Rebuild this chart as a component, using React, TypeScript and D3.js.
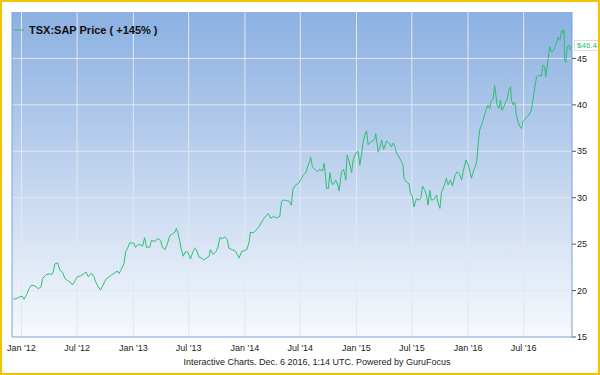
import React from 'react';
import * as d3 from 'd3';

const dates = [
  '2011-12-05', '2011-12-11', '2011-12-22',
  '2012-01-03', '2012-01-09', '2012-01-18', '2012-01-26', '2012-02-03', '2012-02-14', '2012-02-25', '2012-03-05', '2012-03-10', '2012-03-21', '2012-04-01', '2012-04-09', '2012-04-14', '2012-04-19', '2012-04-28', '2012-05-06', '2012-05-15', '2012-05-22', '2012-05-31', '2012-06-07', '2012-06-16', '2012-06-24', '2012-07-02', '2012-07-13', '2012-07-23', '2012-07-30', '2012-08-06', '2012-08-17', '2012-08-25', '2012-09-01', '2012-09-08', '2012-09-16', '2012-09-24', '2012-10-03', '2012-10-14', '2012-10-22', '2012-11-01', '2012-11-09', '2012-11-15', '2012-11-23', '2012-12-01', '2012-12-07', '2012-12-15', '2012-12-20', '2012-12-29',
  '2013-01-02', '2013-01-08', '2013-01-18', '2013-01-31', '2013-02-07', '2013-02-13', '2013-02-24', '2013-03-01', '2013-03-12', '2013-03-23', '2013-03-31', '2013-04-06', '2013-04-14', '2013-04-21', '2013-04-30', '2013-05-09', '2013-05-17', '2013-05-22', '2013-05-27', '2013-06-02', '2013-06-07', '2013-06-13', '2013-06-21', '2013-06-29', '2013-07-07', '2013-07-15', '2013-07-21', '2013-07-26', '2013-08-04', '2013-08-12', '2013-08-19', '2013-08-28', '2013-09-06', '2013-09-10', '2013-09-19', '2013-09-28', '2013-10-05', '2013-10-11', '2013-10-20', '2013-10-27', '2013-11-04', '2013-11-10', '2013-11-21', '2013-12-02', '2013-12-13', '2013-12-21', '2013-12-31',
  '2014-01-08', '2014-01-15', '2014-01-19', '2014-01-28', '2014-02-06', '2014-02-16', '2014-02-25', '2014-03-07', '2014-03-18', '2014-03-26', '2014-04-05', '2014-04-14', '2014-04-25', '2014-05-01', '2014-05-06', '2014-05-17', '2014-05-26', '2014-06-02', '2014-06-07', '2014-06-16', '2014-06-24', '2014-07-02', '2014-07-10', '2014-07-19', '2014-07-27', '2014-08-01', '2014-08-04', '2014-08-10', '2014-08-18', '2014-08-25', '2014-09-03', '2014-09-12', '2014-09-17', '2014-09-22', '2014-09-25', '2014-10-01', '2014-10-06', '2014-10-11', '2014-10-16', '2014-10-25', '2014-11-02', '2014-11-05', '2014-11-13', '2014-11-20', '2014-11-27', '2014-12-01', '2014-12-08', '2014-12-16', '2014-12-21', '2014-12-30',
  '2015-01-06', '2015-01-12', '2015-01-18', '2015-01-22', '2015-01-28', '2015-02-03', '2015-02-08', '2015-02-16', '2015-02-22', '2015-03-02', '2015-03-05', '2015-03-13', '2015-03-18', '2015-03-24', '2015-03-31', '2015-04-09', '2015-04-18', '2015-04-25', '2015-05-01', '2015-05-06', '2015-05-12', '2015-05-20', '2015-05-28', '2015-06-02', '2015-06-05', '2015-06-13', '2015-06-22', '2015-06-26', '2015-07-03', '2015-07-08', '2015-07-16', '2015-07-25', '2015-07-30', '2015-08-05', '2015-08-12', '2015-08-18', '2015-08-23', '2015-08-29', '2015-09-03', '2015-09-11', '2015-09-20', '2015-09-25', '2015-10-01', '2015-10-06', '2015-10-14', '2015-10-22', '2015-10-28', '2015-11-04', '2015-11-11', '2015-11-19', '2015-11-26', '2015-12-03', '2015-12-11', '2015-12-16', '2015-12-25',
  '2016-01-02', '2016-01-07', '2016-01-12', '2016-01-20', '2016-01-26', '2016-01-30', '2016-02-04', '2016-02-08', '2016-02-14', '2016-02-19', '2016-02-28', '2016-03-06', '2016-03-12', '2016-03-17', '2016-03-23', '2016-03-28', '2016-03-31', '2016-04-05', '2016-04-11', '2016-04-16', '2016-04-21', '2016-04-27', '2016-05-03', '2016-05-07', '2016-05-14', '2016-05-19', '2016-05-22', '2016-05-27', '2016-06-02', '2016-06-07', '2016-06-12', '2016-06-18', '2016-06-24', '2016-06-29', '2016-07-04', '2016-07-10', '2016-07-18', '2016-07-26', '2016-08-01', '2016-08-06', '2016-08-12', '2016-08-20', '2016-08-28', '2016-09-02', '2016-09-08', '2016-09-11', '2016-09-19', '2016-09-24', '2016-09-30', '2016-10-07', '2016-10-16', '2016-10-21', '2016-10-27', '2016-11-02', '2016-11-07', '2016-11-10', '2016-11-12', '2016-11-16', '2016-11-20', '2016-11-26', '2016-12-01', '2016-12-05',
];

const prices = [
  19.2, 19.06, 19.27,
  19.4, 19.06, 19.6, 20.2, 20.6, 20.5, 20.2, 20.4, 21.3, 21.7, 21.8, 21.7, 22.0, 22.86, 23.0, 22.2, 21.9, 21.3, 21.06, 20.95, 20.6, 21.06, 21.5, 21.6, 21.8, 22.0, 21.5, 21.85, 21.5, 20.85, 20.4, 20.06, 20.6, 21.2, 21.5, 21.7, 21.9, 22.1, 21.85, 22.3, 22.9, 24.2, 24.7, 25.15, 25.1,
  25.15, 24.65, 25.0, 24.8, 25.7, 24.65, 24.7, 25.4, 25.3, 25.6, 25.4, 24.7, 24.4, 24.9, 25.9, 26.1, 26.3, 26.7, 26.2, 25.3, 24.4, 23.7, 24.2, 24.1, 23.4, 24.2, 24.55, 24.4, 23.6, 23.5, 23.3, 23.5, 23.7, 24.4, 23.9, 24.2, 24.7, 25.7, 25.6, 25.8, 25.5, 24.55, 24.4, 24.2, 23.5, 24.2, 24.3,
  24.45, 25.3, 26.3, 26.2, 26.5, 26.9, 27.4, 27.9, 28.3, 27.8, 28.0, 27.8, 28.0, 29.6, 29.75, 29.7, 29.6, 29.2, 30.9, 31.4, 31.5, 31.9, 32.4, 32.7, 33.5, 33.9, 34.4, 33.3, 33.05, 32.8, 33.05, 32.9, 33.7, 32.25, 31.0, 31.0, 32.7, 31.7, 31.4, 31.9, 31.25, 30.75, 32.8, 33.05, 31.9, 34.6, 33.9, 32.7, 34.05, 34.8,
  35.0, 33.5, 34.8, 35.85, 36.75, 37.2, 35.7, 36.0, 36.1, 36.3, 36.9, 34.9, 35.3, 36.2, 35.2, 36.1, 35.85, 35.5, 35.9, 35.55, 34.8, 34.4, 33.9, 33.5, 32.1, 31.7, 31.5, 30.6, 30.1, 29.0, 29.9, 29.75, 29.9, 31.25, 30.8, 30.3, 29.2, 30.8, 29.75, 29.8, 30.3, 29.4, 28.85, 30.6, 31.2, 32.1, 31.4, 31.9, 31.25, 32.4, 32.8, 32.6, 31.9, 32.8, 34.05,
  33.5, 32.8, 32.1, 33.0, 33.5, 34.05, 36.2, 37.3, 37.8, 38.35, 39.4, 39.97, 39.6, 40.5, 40.6, 42.1, 41.3, 40.0, 39.6, 40.5, 39.4, 39.8, 40.3, 40.5, 41.6, 41.95, 40.5, 40.0, 40.3, 38.9, 38.2, 37.7, 37.45, 38.2, 38.4, 38.7, 38.9, 39.4, 40.7, 41.8, 43.0, 43.2, 43.1, 44.3, 44.1, 43.0, 45.0, 46.25, 45.7, 45.9, 46.6, 47.3, 46.95, 48.05, 47.7, 48.05, 44.8, 44.6, 46.25, 46.4, 45.9, 46.4,
];

const xTickDates = ['2012-01-01', '2012-07-01', '2013-01-01', '2013-07-01', '2014-01-01', '2014-07-01', '2015-01-01', '2015-07-01', '2016-01-01', '2016-07-01'];
const xTickLabels = ["Jan '12", "Jul '12", "Jan '13", "Jul '13", "Jan '14", "Jul '14", "Jan '15", "Jul '15", "Jan '16", "Jul '16"];
const yTicks = [15, 20, 25, 30, 35, 40, 45];

const legendLabel = 'TSX:SAP Price ( +145% )';
const lastLabel = '$46.4';
const footer = 'Interactive Charts. Dec. 6 2016, 1:14 UTC. Powered by GuruFocus';

const parse = d3.timeParse('%Y-%m-%d');

export default function App() {
  const width = 600;
  const height = 375;
  const left = 12, right = 572, top = 12, bottom = 337;

  const x = d3.scaleTime()
    .domain([parse('2011-12-01')!, parse('2016-12-06')!])
    .range([left, right]);
  const y = d3.scaleLinear().domain([15, 50]).range([bottom, top]);

  const points = dates.map((d, i) => ({ date: parse(d)!, value: prices[i] }));
  const line = d3.line<{ date: Date; value: number }>()
    .x(d => x(d.date))
    .y(d => y(d.value));

  const green = '#2fbf74';
  const font = 'Liberation Sans, Arial, sans-serif';
  const lastY = y(prices[prices.length - 1]);

  return (
    <svg width={width} height={height} style={{ position: 'absolute', left: 0, top: 0 }} fontFamily={font}>
      <defs>
        <linearGradient id="bg" x1="0" y1="0" x2="0" y2="1">
          <stop offset="0%" stopColor="#8bb0e1" />
          <stop offset="100%" stopColor="#f7f9fd" />
        </linearGradient>
        <clipPath id="plot">
          <rect x={left} y={top} width={right - left} height={bottom - top} />
        </clipPath>
      </defs>
      <rect x={0} y={0} width={width} height={height} fill="#fff" />
      <rect x={left} y={top} width={right - left} height={bottom - top} fill="url(#bg)" />

      {/* grid */}
      {xTickDates.map(d => (
        <line key={d} x1={x(parse(d)!)} x2={x(parse(d)!)} y1={top} y2={bottom} stroke="#e3e7ee" strokeWidth={1} />
      ))}
      {yTicks.slice(1).map(t => (
        <line key={t} x1={left} x2={right} y1={y(t)} y2={y(t)} stroke="#e3e7ee" strokeWidth={1} />
      ))}

      <path d={line(points) ?? ''} fill="none" stroke={green} strokeWidth={1} clipPath="url(#plot)" />

      {/* axes */}
      <line x1={left} x2={left} y1={top} y2={bottom} stroke="#7ba2d9" />
      <line x1={left} x2={right} y1={bottom} y2={bottom} stroke="#7ba2d9" />
      <line x1={right} x2={right} y1={top} y2={bottom} stroke="#7ba2d9" />
      {yTicks.map(t => (
        <g key={t}>
          <line x1={right} x2={right + 4} y1={y(t)} y2={y(t)} stroke="#555" />
          <text x={right + 5} y={y(t)} dy="0.35em" fontSize={9} fill="#222">{t}</text>
        </g>
      ))}
      {xTickDates.map((d, i) => (
        <text key={d} x={x(parse(d)!)} y={351} textAnchor="middle" fontSize={9} fill="#222">{xTickLabels[i]}</text>
      ))}

      {/* legend */}
      <line x1={14} x2={24} y1={30} y2={30} stroke={green} strokeWidth={1} />
      <text x={29} y={34} fontSize={11} fontWeight="bold" fill="#111">{legendLabel}</text>

      {/* last value */}
      <rect x={574.5} y={lastY - 5} width={30} height={10} fill="#fff" stroke="#ddd" />
      <text x={577} y={lastY} dy="0.35em" fontSize={8} fill={green}>{lastLabel}</text>

      <text x={317} y={365} textAnchor="middle" fontSize={9} fill="#222">{footer}</text>

      <rect x={1} y={1} width={width - 2} height={height - 2} fill="none" stroke="#f6c200" strokeWidth={2} />
    </svg>
  );
}
